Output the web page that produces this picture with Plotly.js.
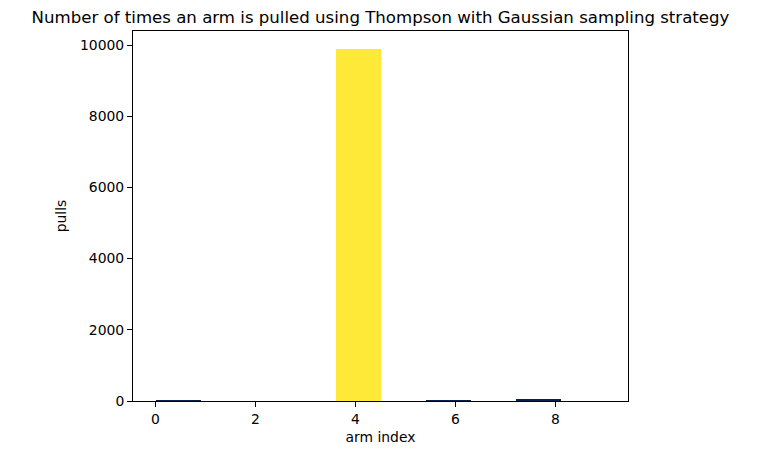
<!DOCTYPE html>
<html>
<head>
<meta charset="utf-8">
<script src="https://cdn.plot.ly/plotly-3.0.1.min.js"></script>
<style>
  body { margin: 0; background: #fff; }
  #gd { width: 773px; height: 460px; }
</style>
</head>
<body>
<div id="gd"></div>
<script>
// pulls per arm (Thompson / Gaussian sampling)
const arms = [0, 1, 2, 3, 4, 5, 6, 7, 8, 9];
const pulls = [28, 0, 0, 0, 9900, 0, 26, 0, 46, 0];
const xTicks = [0, 2, 4, 6, 8];
const yTicks = [0, 2000, 4000, 6000, 8000, 10000];

// histogram of arm index: 10 bins over [0, 9]
const nBins = 10;
const binWidth = (arms[arms.length - 1] - arms[0]) / nBins;
const binLeft = arms.map(a => arms[0] + a * binWidth);

const maxPull = Math.max(...pulls);

let trace = {
    type: 'bar',
    x: binLeft,
    y: pulls,
    width: binWidth,
    offset: 0,
    marker: {
        color: pulls,
        cmin: 0,
        cmax: maxPull,
        colorscale: [[0, '#00224e'], [0.5, '#7c7b78'], [1, '#fee838']],
        line: {width: 0}
    },
    hoverinfo: 'x+y'
};

let axisStyle = {
    showgrid: false,
    zeroline: false,
    showline: true,
    linecolor: '#000',
    linewidth: 1,
    mirror: true,
    ticks: 'outside',
    ticklen: 5,
    tickwidth: 1,
    tickcolor: '#000',
    tickfont: {family: 'DejaVu Sans', size: 13.9, color: '#000'}
};

let layout = {
    width: 773,
    height: 460,
    margin: {l: 133, r: 145, t: 31, b: 59},
    paper_bgcolor: '#fff',
    plot_bgcolor: '#fff',
    font: {family: 'DejaVu Sans', color: '#000'},
    showlegend: false,
    title: {
        text: 'Number of times an arm is pulled using Thompson with Gaussian sampling strategy',
        font: {family: 'DejaVu Sans', size: 16.6, color: '#000'},
        xref: 'paper',
        x: 0.5,
        xanchor: 'center',
        yref: 'container',
        y: 0.962,
        yanchor: 'middle'
    },
    xaxis: Object.assign({}, axisStyle, {
        range: [-0.45, 9.45],
        tickvals: xTicks,
        ticktext: xTicks.map(String),
        title: {text: 'arm index', font: {family: 'DejaVu Sans', size: 13.9}, standoff: 6}
    }),
    yaxis: Object.assign({}, axisStyle, {
        range: [0, maxPull * 1.05],
        tickvals: yTicks,
        ticktext: yTicks.map(String),
        title: {text: 'pulls', font: {family: 'DejaVu Sans', size: 13.9}, standoff: 10}
    }),
    bargap: 0
};

Plotly.newPlot('gd', [trace], layout, {displayModeBar: false, staticPlot: true});
</script>
</body>
</html>
